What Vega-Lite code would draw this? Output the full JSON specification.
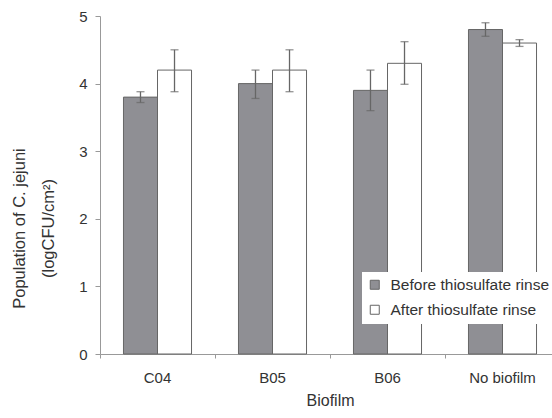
{
  "$schema": "https://vega.github.io/schema/vega-lite/v6.json",
  "autosize": {"type": "none"},
  "padding": {"left": 100, "top": 16, "right": 0, "bottom": 64},
  "width": 452,
  "height": 338,
  "background": "white",
  "config": {
    "view": {"stroke": null},
    "font": "Liberation Sans",
    "axis": {"grid": false, "domainColor": "#999999", "tickColor": "#999999", "labelColor": "#333333", "titleColor": "#333333", "labelFont": "Liberation Sans", "titleFont": "Liberation Sans", "titleFontWeight": "normal"}
  },
  "data": {
    "values": [
      {"biofilm": "C04", "series": "Before thiosulfate rinse", "value": 3.8, "low": 3.72, "high": 3.88},
      {"biofilm": "C04", "series": "After thiosulfate rinse", "value": 4.2, "low": 3.88, "high": 4.5},
      {"biofilm": "B05", "series": "Before thiosulfate rinse", "value": 4.0, "low": 3.78, "high": 4.2},
      {"biofilm": "B05", "series": "After thiosulfate rinse", "value": 4.2, "low": 3.88, "high": 4.5},
      {"biofilm": "B06", "series": "Before thiosulfate rinse", "value": 3.9, "low": 3.6, "high": 4.2},
      {"biofilm": "B06", "series": "After thiosulfate rinse", "value": 4.3, "low": 3.99, "high": 4.62},
      {"biofilm": "No biofilm", "series": "Before thiosulfate rinse", "value": 4.8, "low": 4.7, "high": 4.9},
      {"biofilm": "No biofilm", "series": "After thiosulfate rinse", "value": 4.6, "low": 4.55, "high": 4.65}
    ]
  },
  "encoding": {
    "x": {
      "field": "biofilm", "type": "nominal", "sort": ["C04", "B05", "B06", "No biofilm"],
      "scale": {"paddingInner": 0, "paddingOuter": 0, "range": [0, 460]},
      "axis": {"title": "Biofilm", "labelAngle": 0, "labelFontSize": 15, "titleFontSize": 16, "bandPosition": 0, "tickSize": 4, "labelPadding": 12, "titlePadding": 7, "titleX": 230}
    },
    "xOffset": {
      "field": "series", "type": "nominal", "sort": ["Before thiosulfate rinse", "After thiosulfate rinse"],
      "scale": {"paddingInner": 0, "paddingOuter": 0.69}
    }
  },
  "layer": [
    {
      "mark": {"type": "bar", "stroke": "#666666", "strokeWidth": 1},
      "encoding": {
        "y": {
          "field": "value", "type": "quantitative",
          "scale": {"domain": [0, 5]},
          "axis": {"values": [0, 1, 2, 3, 4, 5], "format": "d", "title": ["Population of C. jejuni", "(logCFU/cm²)"], "titleFontSize": 16.5, "titleLineHeight": 29, "labelFontSize": 15, "tickSize": 5, "labelPadding": 8, "titlePadding": 22, "titleY": 212}
        },
        "fill": {
          "field": "series", "type": "nominal",
          "scale": {"domain": ["Before thiosulfate rinse", "After thiosulfate rinse"], "range": ["#8f8f94", "#ffffff"]},
          "legend": {"title": null, "orient": "none", "legendX": 262, "legendY": 256, "fillColor": "white", "padding": 5, "symbolType": "square", "symbolSize": 81, "symbolStrokeColor": "#666666", "symbolStrokeWidth": 1, "labelFontSize": 15.5, "labelColor": "#333333", "rowPadding": 8, "labelOffset": 8, "labelLimit": 300}
        }
      }
    },
    {
      "mark": {"type": "rule", "color": "#666666", "strokeWidth": 1.3},
      "encoding": {
        "y": {"field": "low", "type": "quantitative"},
        "y2": {"field": "high"}
      }
    },
    {
      "mark": {"type": "tick", "color": "#666666", "size": 8, "thickness": 1.3},
      "encoding": {"y": {"field": "low", "type": "quantitative"}}
    },
    {
      "mark": {"type": "tick", "color": "#666666", "size": 8, "thickness": 1.3},
      "encoding": {"y": {"field": "high", "type": "quantitative"}}
    }
  ]
}
